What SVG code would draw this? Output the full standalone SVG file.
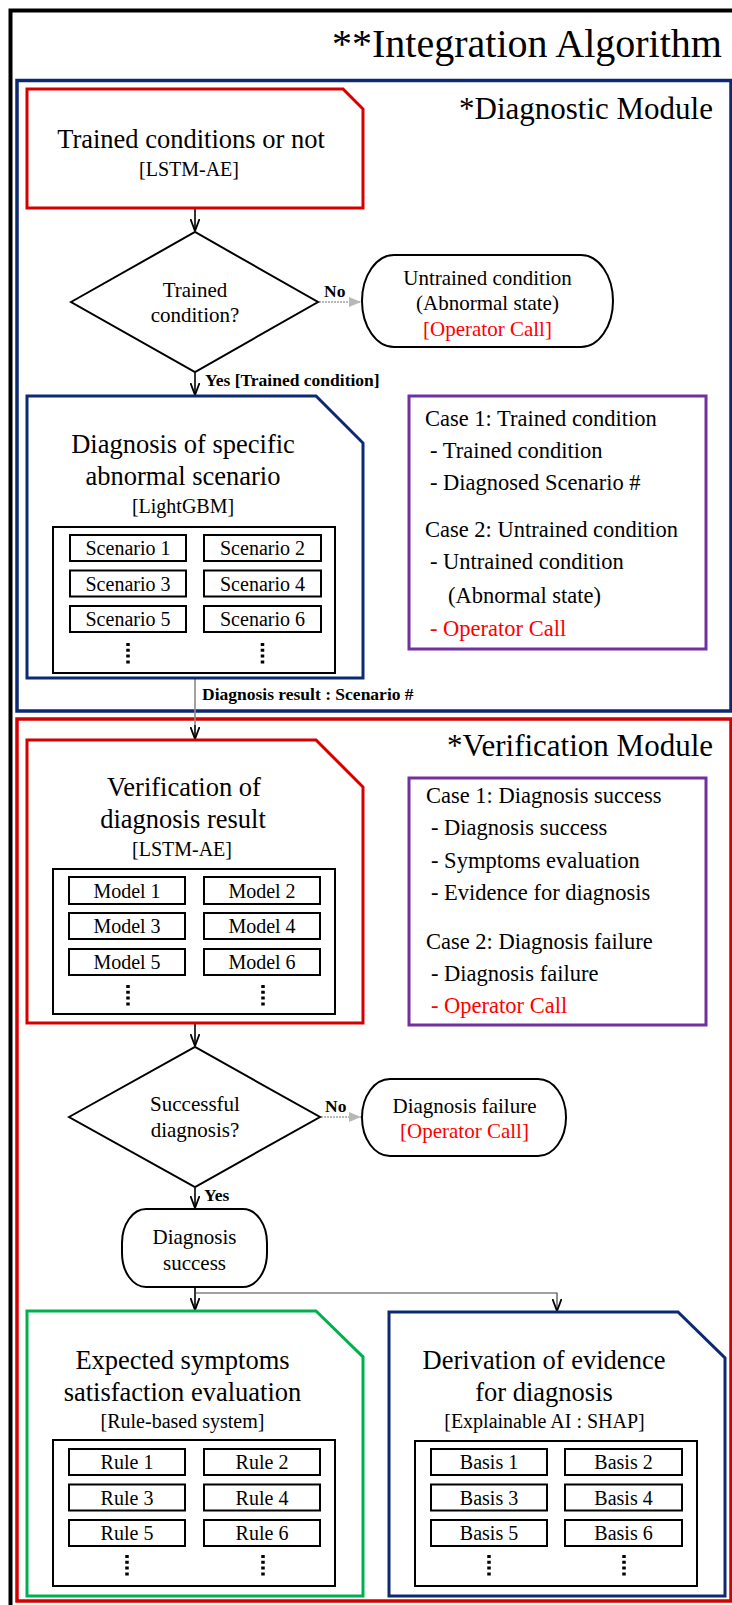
<svg xmlns="http://www.w3.org/2000/svg" width="732" height="1605" viewBox="0 0 732 1605">
  <style>
    text { font-family: "Liberation Serif", "Times New Roman", serif; fill: #000; }
    .title { font-size: 40px; }
    .module { font-size: 31px; }
    .head { font-size: 26.5px; text-anchor: middle; }
    .algo { font-size: 20px; text-anchor: middle; }
    .item { font-size: 20px; text-anchor: middle; }
    .term { font-size: 21px; text-anchor: middle; }
    .case { font-size: 22.5px; }
    .lbl { font-size: 17.5px; font-weight: bold; }
    .red { fill: #ff0000; }
    .cut-red { fill: #fff; stroke: #d40000; stroke-width: 3; }
    .cut-navy { fill: #fff; stroke: #0c2a72; stroke-width: 3; }
    .cut-green { fill: #fff; stroke: #00b050; stroke-width: 3; }
    .panel { fill: none; stroke: #7030a0; stroke-width: 3; }
    .inner { fill: none; stroke: #000; stroke-width: 2; }
    .cell { fill: #fff; stroke: #000; stroke-width: 2; }
    .shape { fill: #fff; stroke: #000; stroke-width: 2; }
    .dots { stroke: #000; stroke-width: 3.5; stroke-dasharray: 3 2.8; }
    .flow { fill: none; stroke: #000; stroke-width: 1.6; }
    .flow-grey { fill: none; stroke: #8a8a8a; stroke-width: 1.6; }
    .flow-no { fill: none; stroke: #b8b8b8; stroke-width: 2; stroke-dasharray: 2 1; }
    .flow-thin { fill: none; stroke: #444; stroke-width: 1.2; }
  </style>
  <defs>
    <marker id="arrow" viewBox="0 0 12 10" refX="12" refY="5" markerWidth="12" markerHeight="10" markerUnits="userSpaceOnUse" orient="auto">
      <path d="M0,0.5 L12,5 L0,9.5" fill="none" stroke="#000" stroke-width="1.8"/>
    </marker>
    <marker id="arrow-grey" viewBox="0 0 12 10" refX="12" refY="5" markerWidth="12" markerHeight="10" markerUnits="userSpaceOnUse" orient="auto">
      <path d="M0,0 L12,5 L0,10 Z" fill="#b8b8b8"/>
    </marker>
  </defs>

  <rect width="732" height="1605" fill="#fff"/>

  <!-- outer frame and title -->
  <g id="integration-algorithm">
    <rect x="10.5" y="10.5" width="760" height="1640" fill="none" stroke="#000" stroke-width="4"/>
    <text class="title" x="332" y="57">**Integration Algorithm</text>
  </g>

  <!-- module frames -->
  <g id="diagnostic-module">
    <rect x="17" y="80.5" width="714" height="630.5" fill="none" stroke="#0c2a72" stroke-width="3.5"/>
    <text class="module" x="459" y="119">*Diagnostic Module</text>
  </g>
  <g id="verification-module">
    <rect x="17" y="719" width="714" height="882" fill="none" stroke="#d40000" stroke-width="3.5"/>
    <text class="module" x="447" y="756">*Verification Module</text>
  </g>

  <!-- connectors -->
  <g id="connectors">
    <line class="flow" x1="195" y1="209" x2="195" y2="231" marker-end="url(#arrow)"/>
    <line class="flow-no" x1="319" y1="302" x2="361" y2="302" marker-end="url(#arrow-grey)"/>
    <line class="flow" x1="195" y1="373" x2="195" y2="395" marker-end="url(#arrow)"/>
    <line class="flow-grey" x1="195" y1="679" x2="195" y2="725"/>
    <line class="flow" x1="195" y1="725" x2="195" y2="739" marker-end="url(#arrow)"/>
    <line class="flow" x1="195" y1="1024" x2="195" y2="1046" marker-end="url(#arrow)"/>
    <line class="flow-no" x1="321" y1="1117" x2="361" y2="1117" marker-end="url(#arrow-grey)"/>
    <line class="flow" x1="195" y1="1188" x2="195" y2="1208" marker-end="url(#arrow)"/>
    <line class="flow" x1="195" y1="1288" x2="195" y2="1310" marker-end="url(#arrow)"/>
    <polyline class="flow-thin" points="195,1293 557,1293 557,1311" marker-end="url(#arrow)"/>
    <text class="lbl" x="324" y="297">No</text>
    <text class="lbl" x="205" y="386">Yes [Trained condition]</text>
    <text class="lbl" x="202" y="700">Diagnosis result : Scenario #</text>
    <text class="lbl" x="325" y="1112">No</text>
    <text class="lbl" x="204" y="1201">Yes</text>
  </g>

  <!-- trained-condition check -->
  <g id="node-trained-check">
    <path class="cut-red" d="M27,89 H343 L363,109 V208 H27 Z"/>
    <text class="head" x="191" y="148">Trained conditions or not</text>
    <text class="algo" x="189" y="176">[LSTM-AE]</text>
  </g>

  <g id="node-trained-decision">
    <polygon class="shape" points="71,302 195,232 318,302 195,372"/>
    <text class="term" x="195" y="297">Trained</text>
    <text class="term" x="195" y="322">condition?</text>
  </g>

  <g id="node-untrained">
    <rect class="shape" x="362" y="255" width="251" height="92" rx="32" ry="46"/>
    <text class="term" x="487.5" y="285">Untrained condition</text>
    <text class="term" x="487.5" y="310">(Abnormal state)</text>
    <text class="term red" x="487.5" y="336">[Operator Call]</text>
  </g>

  <!-- scenario diagnosis -->
  <g id="node-scenario-diagnosis">
    <path class="cut-navy" d="M27,396 H316 L363,443 V678 H27 Z"/>
    <text class="head" x="183" y="453">Diagnosis of specific</text>
    <text class="head" x="183" y="485">abnormal scenario</text>
    <text class="algo" x="183" y="513">[LightGBM]</text>
    <rect class="inner" x="53" y="527" width="282" height="146"/>
    <rect class="cell" x="70" y="535" width="116" height="26"/>
    <rect class="cell" x="204" y="535" width="117" height="26"/>
    <rect class="cell" x="70" y="570.5" width="116" height="26"/>
    <rect class="cell" x="204" y="570.5" width="117" height="26"/>
    <rect class="cell" x="70" y="606" width="116" height="26"/>
    <rect class="cell" x="204" y="606" width="117" height="26"/>
    <text class="item" x="128" y="555">Scenario 1</text>
    <text class="item" x="262.5" y="555">Scenario 2</text>
    <text class="item" x="128" y="590.5">Scenario 3</text>
    <text class="item" x="262.5" y="590.5">Scenario 4</text>
    <text class="item" x="128" y="626">Scenario 5</text>
    <text class="item" x="262.5" y="626">Scenario 6</text>
    <line class="dots" x1="128" y1="643" x2="128" y2="666"/>
    <line class="dots" x1="262.5" y1="643" x2="262.5" y2="666"/>
  </g>

  <g id="panel-diagnostic-cases">
    <rect class="panel" x="409" y="396" width="297" height="253"/>
    <text class="case" x="425" y="426">Case 1: Trained condition</text>
    <text class="case" x="430" y="458">- Trained condition</text>
    <text class="case" x="430" y="490">- Diagnosed Scenario #</text>
    <text class="case" x="425" y="537">Case 2: Untrained condition</text>
    <text class="case" x="430" y="569">- Untrained condition</text>
    <text class="case" x="448" y="603">(Abnormal state)</text>
    <text class="case red" x="430" y="636">- Operator Call</text>
  </g>

  <!-- verification -->
  <g id="node-verification">
    <path class="cut-red" d="M27,740 H316 L363,787 V1023 H27 Z"/>
    <text class="head" x="184" y="796">Verification of</text>
    <text class="head" x="183" y="828">diagnosis result</text>
    <text class="algo" x="182" y="856">[LSTM-AE]</text>
    <rect class="inner" x="53" y="869" width="282" height="145"/>
    <rect class="cell" x="69" y="877" width="116" height="27"/>
    <rect class="cell" x="204" y="877" width="116" height="27"/>
    <rect class="cell" x="69" y="913" width="116" height="26"/>
    <rect class="cell" x="204" y="913" width="116" height="26"/>
    <rect class="cell" x="69" y="949" width="116" height="26"/>
    <rect class="cell" x="204" y="949" width="116" height="26"/>
    <text class="item" x="127" y="897.5">Model 1</text>
    <text class="item" x="262" y="897.5">Model 2</text>
    <text class="item" x="127" y="933">Model 3</text>
    <text class="item" x="262" y="933">Model 4</text>
    <text class="item" x="127" y="969">Model 5</text>
    <text class="item" x="262" y="969">Model 6</text>
    <line class="dots" x1="128" y1="985" x2="128" y2="1008"/>
    <line class="dots" x1="263" y1="985" x2="263" y2="1008"/>
  </g>

  <g id="panel-verification-cases">
    <rect class="panel" x="409" y="778" width="297" height="247"/>
    <text class="case" x="426" y="803">Case 1: Diagnosis success</text>
    <text class="case" x="431" y="835">- Diagnosis success</text>
    <text class="case" x="431" y="868">- Symptoms evaluation</text>
    <text class="case" x="431" y="900">- Evidence for diagnosis</text>
    <text class="case" x="426" y="949">Case 2: Diagnosis failure</text>
    <text class="case" x="431" y="981">- Diagnosis failure</text>
    <text class="case red" x="431" y="1013">- Operator Call</text>
  </g>

  <g id="node-success-decision">
    <polygon class="shape" points="69,1117 195,1047 320,1117 195,1187"/>
    <text class="term" x="195" y="1111">Successful</text>
    <text class="term" x="195" y="1137">diagnosis?</text>
  </g>

  <g id="node-diagnosis-failure">
    <rect class="shape" x="362" y="1079" width="204" height="77" rx="28" ry="38.5"/>
    <text class="term" x="464.5" y="1113">Diagnosis failure</text>
    <text class="term red" x="464.5" y="1138">[Operator Call]</text>
  </g>

  <g id="node-diagnosis-success">
    <rect class="shape" x="122" y="1209" width="145" height="78" rx="24" ry="34"/>
    <text class="term" x="194.5" y="1244">Diagnosis</text>
    <text class="term" x="194.5" y="1270">success</text>
  </g>

  <!-- symptom evaluation -->
  <g id="node-symptoms">
    <path class="cut-green" d="M27,1311 H316 L363,1357 V1596 H27 Z"/>
    <text class="head" x="182.5" y="1369">Expected symptoms</text>
    <text class="head" x="182.5" y="1401">satisfaction evaluation</text>
    <text class="algo" x="182.5" y="1428">[Rule-based system]</text>
    <rect class="inner" x="53" y="1440" width="282" height="146"/>
    <rect class="cell" x="69" y="1449" width="116" height="26"/>
    <rect class="cell" x="204" y="1449" width="116" height="26"/>
    <rect class="cell" x="69" y="1484.5" width="116" height="26"/>
    <rect class="cell" x="204" y="1484.5" width="116" height="26"/>
    <rect class="cell" x="69" y="1520" width="116" height="26"/>
    <rect class="cell" x="204" y="1520" width="116" height="26"/>
    <text class="item" x="127" y="1469">Rule 1</text>
    <text class="item" x="262" y="1469">Rule 2</text>
    <text class="item" x="127" y="1504.5">Rule 3</text>
    <text class="item" x="262" y="1504.5">Rule 4</text>
    <text class="item" x="127" y="1540">Rule 5</text>
    <text class="item" x="262" y="1540">Rule 6</text>
    <line class="dots" x1="127" y1="1555" x2="127" y2="1578"/>
    <line class="dots" x1="263" y1="1555" x2="263" y2="1578"/>
  </g>

  <!-- evidence derivation -->
  <g id="node-evidence">
    <path class="cut-navy" d="M389,1312 H678 L725,1358 V1596 H389 Z"/>
    <text class="head" x="544" y="1369">Derivation of evidence</text>
    <text class="head" x="544" y="1401">for diagnosis</text>
    <text class="algo" x="544.5" y="1428">[Explainable AI : SHAP]</text>
    <rect class="inner" x="415" y="1441" width="282" height="145"/>
    <rect class="cell" x="431" y="1449" width="116" height="26"/>
    <rect class="cell" x="565" y="1449" width="117" height="26"/>
    <rect class="cell" x="431" y="1484.5" width="116" height="26"/>
    <rect class="cell" x="565" y="1484.5" width="117" height="26"/>
    <rect class="cell" x="431" y="1520" width="116" height="26"/>
    <rect class="cell" x="565" y="1520" width="117" height="26"/>
    <text class="item" x="489" y="1469">Basis 1</text>
    <text class="item" x="623.5" y="1469">Basis 2</text>
    <text class="item" x="489" y="1504.5">Basis 3</text>
    <text class="item" x="623.5" y="1504.5">Basis 4</text>
    <text class="item" x="489" y="1540">Basis 5</text>
    <text class="item" x="623.5" y="1540">Basis 6</text>
    <line class="dots" x1="489" y1="1555" x2="489" y2="1578"/>
    <line class="dots" x1="624" y1="1555" x2="624" y2="1578"/>
  </g>
</svg>
